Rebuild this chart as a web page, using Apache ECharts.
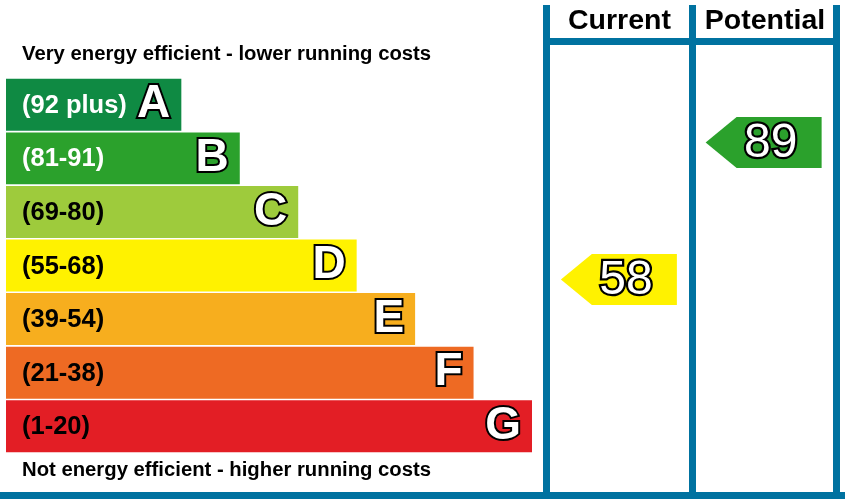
<!DOCTYPE html>
<html>
<head>
<meta charset="utf-8">
<script src="https://cdn.jsdelivr.net/npm/echarts@6/dist/echarts.min.js"></script>
<style>
  html, body { margin: 0; padding: 0; background: #fff; }
  #chart { width: 845px; height: 504px; }
</style>
</head>
<body>
<div id="chart"></div>
<script>
// bands, top (best) to bottom
const bands = ['A', 'B', 'C', 'D', 'E', 'F', 'G'];
const ranges = ['(92 plus)', '(81-91)', '(69-80)', '(55-68)', '(39-54)', '(21-38)', '(1-20)'];
const bandMins = [92, 81, 69, 55, 39, 21, 1];
const bandLengths = [3, 4, 5, 6, 7, 8, 9];

// ratings
const columns = ['Current', 'Potential'];
const ratings = [58, 89];

const topNote = 'Very energy efficient - lower running costs';
const bottomNote = 'Not energy efficient - higher running costs';

// styles
const bandColors = ['#0f8a43', '#2ba12c', '#9ecb3c', '#fff200', '#f7ae1e', '#ee6a23', '#e31e25'];
const rangeColors = ['#fff', '#fff', '#000', '#000', '#000', '#000', '#000'];
const blue = '#0072a0';
const FONT = '"Liberation Sans", Arial, sans-serif';

function bandOf(v) {
  for (let i = 0; i < bandMins.length; i++) {
    if (v >= bandMins[i]) return i;
  }
  return bandMins.length - 1;
}

const chart = echarts.init(document.getElementById('chart'));

function renderBand(params, api) {
  const i = params.dataIndex;
  const end = api.coord([api.value(0), api.value(1)]);
  const start = api.coord([0, api.value(1)]);
  const h = api.size([0, 1])[1] * 0.97;
  return {
    type: 'group',
    children: [
      {
        type: 'rect',
        shape: { x: start[0], y: end[1] - h / 2, width: end[0] - start[0], height: h },
        style: { fill: bandColors[i] }
      },
      {
        type: 'text',
        style: {
          text: ranges[i], x: start[0] + 16, y: end[1] + 1,
          fill: rangeColors[i], fontSize: 25.5, fontWeight: 'bold', fontFamily: FONT,
          align: 'left', verticalAlign: 'middle', textAlign: 'left', textVerticalAlign: 'middle'
        }
      },
      {
        type: 'text',
        style: {
          text: bands[i], x: end[0] - 11, y: end[1],
          fill: '#fff', stroke: '#000', lineWidth: 4, strokeFirst: true,
          fontSize: 46, fontWeight: 'bold', fontFamily: FONT,
          align: 'right', verticalAlign: 'middle', textAlign: 'right', textVerticalAlign: 'middle'
        }
      }
    ]
  };
}

function renderArrow(params, api) {
  const c = api.coord([api.value(0), api.value(1)]);
  const v = api.value(1);
  const hw = 58, hh = 25.5, tip = 31;
  return {
    type: 'group',
    children: [
      {
        type: 'polygon',
        shape: {
          points: [
            [c[0] - hw, c[1]],
            [c[0] - hw + tip, c[1] - hh],
            [c[0] + hw, c[1] - hh],
            [c[0] + hw, c[1] + hh],
            [c[0] - hw + tip, c[1] + hh]
          ]
        },
        style: { fill: bandColors[bandOf(v)] }
      },
      {
        type: 'text',
        style: {
          text: String(v), x: c[0] + 7, y: c[1] + 1,
          fill: '#fff', stroke: '#000', lineWidth: 4.5, strokeFirst: true,
          fontSize: 48, fontFamily: FONT,
          align: 'center', verticalAlign: 'middle', textAlign: 'center', textVerticalAlign: 'middle'
        }
      }
    ]
  };
}

function line(x1, y1, x2, y2) {
  return { type: 'line', shape: { x1, y1, x2, y2 }, style: { stroke: blue, lineWidth: 7 }, z: 10 };
}

function note(text, y) {
  return {
    type: 'text', x: 22, y: y,
    style: { text, fill: '#000', font: 'bold 20.3px ' + FONT, textVerticalAlign: 'middle', verticalAlign: 'middle' }
  };
}

const headerX = [619.5, 765];

chart.setOption({
  animation: false,
  grid: [
    { left: 6, top: 78, width: 526, height: 375 },
    { left: 546.5, top: 94, width: 289.5, height: 353.5 }
  ],
  xAxis: [
    { gridIndex: 0, type: 'value', min: 0, max: 9, show: false },
    { gridIndex: 1, type: 'category', data: columns, show: false }
  ],
  yAxis: [
    { gridIndex: 0, type: 'category', data: bands, inverse: true, show: false },
    { gridIndex: 1, type: 'value', min: 20, max: 100, show: false }
  ],
  series: [
    {
      type: 'custom', xAxisIndex: 0, yAxisIndex: 0,
      renderItem: renderBand,
      data: bandLengths.map((v, i) => [v, bands[i]])
    },
    {
      type: 'custom', xAxisIndex: 1, yAxisIndex: 1,
      renderItem: renderArrow,
      data: ratings.map((v, i) => [columns[i], v])
    }
  ],
  graphic: [
    line(546.5, 5, 546.5, 495),
    line(692.5, 5, 692.5, 495),
    line(836.5, 5, 836.5, 495),
    line(543, 41.5, 840, 41.5),
    line(0, 495.5, 845, 495.5),
    note(topNote, 54),
    note(bottomNote, 470)
  ].concat(columns.map((name, i) => ({
    type: 'text', x: headerX[i], y: 21,
    style: {
      text: name, fill: '#000', font: 'bold 28.5px ' + FONT,
      textAlign: 'center', align: 'center', textVerticalAlign: 'middle', verticalAlign: 'middle'
    }
  })))
});
</script>
</body>
</html>
